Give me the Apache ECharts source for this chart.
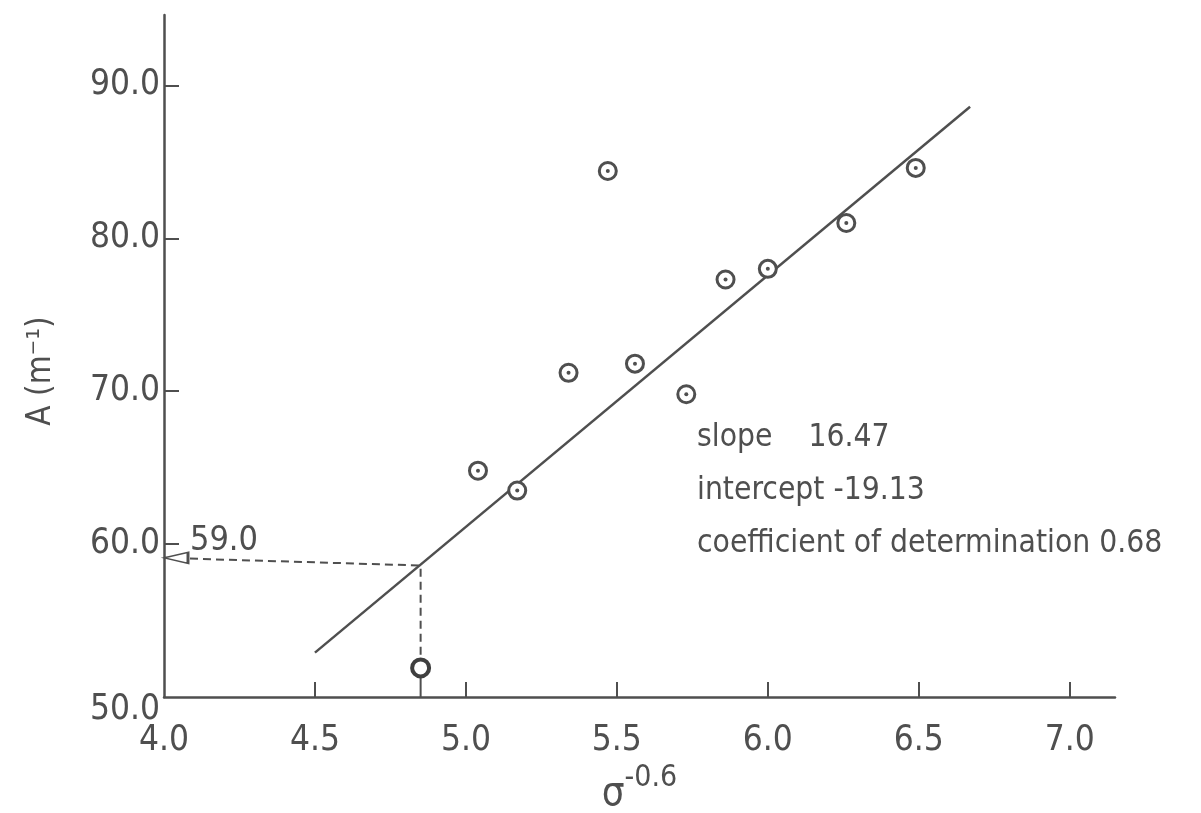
<!DOCTYPE html>
<html>
<head>
<meta charset="utf-8">
<script src="https://cdn.jsdelivr.net/npm/echarts@6/dist/echarts.min.js"></script>
<style>
html,body{margin:0;padding:0;background:#fff;overflow:hidden;}
#chart{width:1201px;height:813px;}
</style>
</head>
<body>
<div id="chart"></div>
<script>
// ---- data ----
var xValues = [4.85, 5.04, 5.17, 5.34, 5.47, 5.56, 5.73, 5.86, 6.00, 6.26, 6.49];
var yValues = [51.9, 64.8, 63.5, 71.2, 84.4, 71.8, 69.8, 77.3, 78.0, 81.0, 84.6];
var fitX = [4.50, 6.67];
var fitY = [52.9, 88.6];
var guideX = [4.00, 4.85, 4.85];
var guideY = [59.1, 58.6, 51.9];
var dropX = [4.85, 4.85];
var dropY = [51.9, 50.0];
var guideLabel = '59.0';
var xTicks = [4.0, 4.5, 5.0, 5.5, 6.0, 6.5, 7.0];
var xTickLabels = ['4.0', '4.5', '5.0', '5.5', '6.0', '6.5', '7.0'];
var yTicks = [50, 60, 70, 80, 90];
var yTickLabels = ['50.0', '60.0', '70.0', '80.0', '90.0'];
var statLines = ['slope    16.47', 'intercept -19.13', 'coefficient of determination 0.68'];

var INK = '#4f4f4f';
var FONT = "'Liberation Sans Narrow','DejaVu Sans Condensed','DejaVu Sans',sans-serif";

var pts = xValues.map(function (x, i) { return [x, yValues[i]]; });
var dotted = pts.slice(1);
var plain = pts.slice(0, 1);
var fit = fitX.map(function (x, i) { return [x, fitY[i]]; });
var guide = guideX.map(function (x, i) { return [x, guideY[i]]; });
var drop = dropX.map(function (x, i) { return [x, dropY[i]]; });

var chart = echarts.init(document.getElementById('chart'), null, {renderer: 'canvas'});
chart.setOption({
  animation: false,
  backgroundColor: '#fff',
  grid: {left: 164, top: 15, width: 951, height: 682, containLabel: false, outerBoundsMode: 'none'},
  xAxis: {
    type: 'value', min: 4.0, max: 7.15, interval: 0.5,
    name: '{s|σ}{p|-0.6}', nameLocation: 'middle', nameGap: 64,
    nameTextStyle: {rich: {
      s: {fontFamily: FONT, fontSize: 40, color: INK, padding: [12, 0, 0, 0]},
      p: {fontFamily: FONT, fontSize: 30, color: INK, verticalAlign: 'top'}
    }},
    axisLine: {show: true, lineStyle: {color: INK, width: 2.5}},
    axisTick: {show: true, inside: true, length: 15, lineStyle: {color: INK, width: 2},
      customValues: xTicks.slice(1)},
    axisLabel: {customValues: xTicks, color: INK, fontFamily: FONT, fontSize: 35, margin: 26,
      formatter: function (v) { var i = xTicks.indexOf(Math.round(v * 10) / 10); return i >= 0 ? xTickLabels[i] : ''; }},
    splitLine: {show: false}
  },
  yAxis: {
    type: 'value', min: 50, max: 94.6, interval: 10,
    name: 'A (m⁻¹)', nameLocation: 'middle', nameGap: 106, nameRotate: 90,
    nameTextStyle: {fontFamily: FONT, fontSize: 33, color: INK, padding: [0, 30, 0, 0]},
    axisLine: {show: true, lineStyle: {color: INK, width: 2.5}},
    axisTick: {show: true, inside: true, length: 15, lineStyle: {color: INK, width: 2},
      customValues: yTicks.slice(1)},
    axisLabel: {customValues: yTicks, color: INK, fontFamily: FONT, fontSize: 35, margin: 4,
      formatter: function (v) { var i = yTicks.indexOf(Math.round(v)); return i >= 0 ? (i === 0 ? '{low|' + yTickLabels[i] + '}' : yTickLabels[i]) : ''; },
      rich: {low: {fontFamily: FONT, fontSize: 35, color: INK, padding: [26, 0, 0, 0]}}},
    splitLine: {show: false}
  },
  series: [
    {type: 'line', data: fit, symbol: 'none', lineStyle: {color: INK, width: 2.5}, z: 2},
    {type: 'line', data: guide, symbol: 'none', lineStyle: {color: INK, width: 2, type: [8, 5]}, z: 2},
    {type: 'line', data: drop, symbol: 'none', lineStyle: {color: INK, width: 2}, z: 2},
    {type: 'scatter', data: [guide[0]], symbol: 'triangle', symbolSize: [11, 24], symbolRotate: 90,
      symbolOffset: [12, 0],
      itemStyle: {color: '#fff', borderColor: INK, borderWidth: 2, opacity: 1}, z: 4,
      label: {show: true, position: 'top', offset: [48, 12], formatter: guideLabel,
        color: INK, fontFamily: FONT, fontSize: 34}},
    {type: 'scatter', data: dotted, symbol: 'circle', symbolSize: 17,
      itemStyle: {color: '#fff', borderColor: INK, borderWidth: 3, opacity: 1}, z: 5},
    {type: 'scatter', data: dotted, symbol: 'circle', symbolSize: 4,
      itemStyle: {color: INK, opacity: 1}, z: 6},
    {type: 'scatter', data: plain, symbol: 'circle', symbolSize: 17,
      itemStyle: {color: '#fff', borderColor: '#3f3f3f', borderWidth: 4, opacity: 1}, z: 5}
  ],
  graphic: statLines.map(function (t, i) {
    return {type: 'text', left: 697, top: 422 + i * 53,
      style: {text: t, fill: INK, font: '31.5px ' + FONT}};
  })
});
</script>
</body>
</html>
